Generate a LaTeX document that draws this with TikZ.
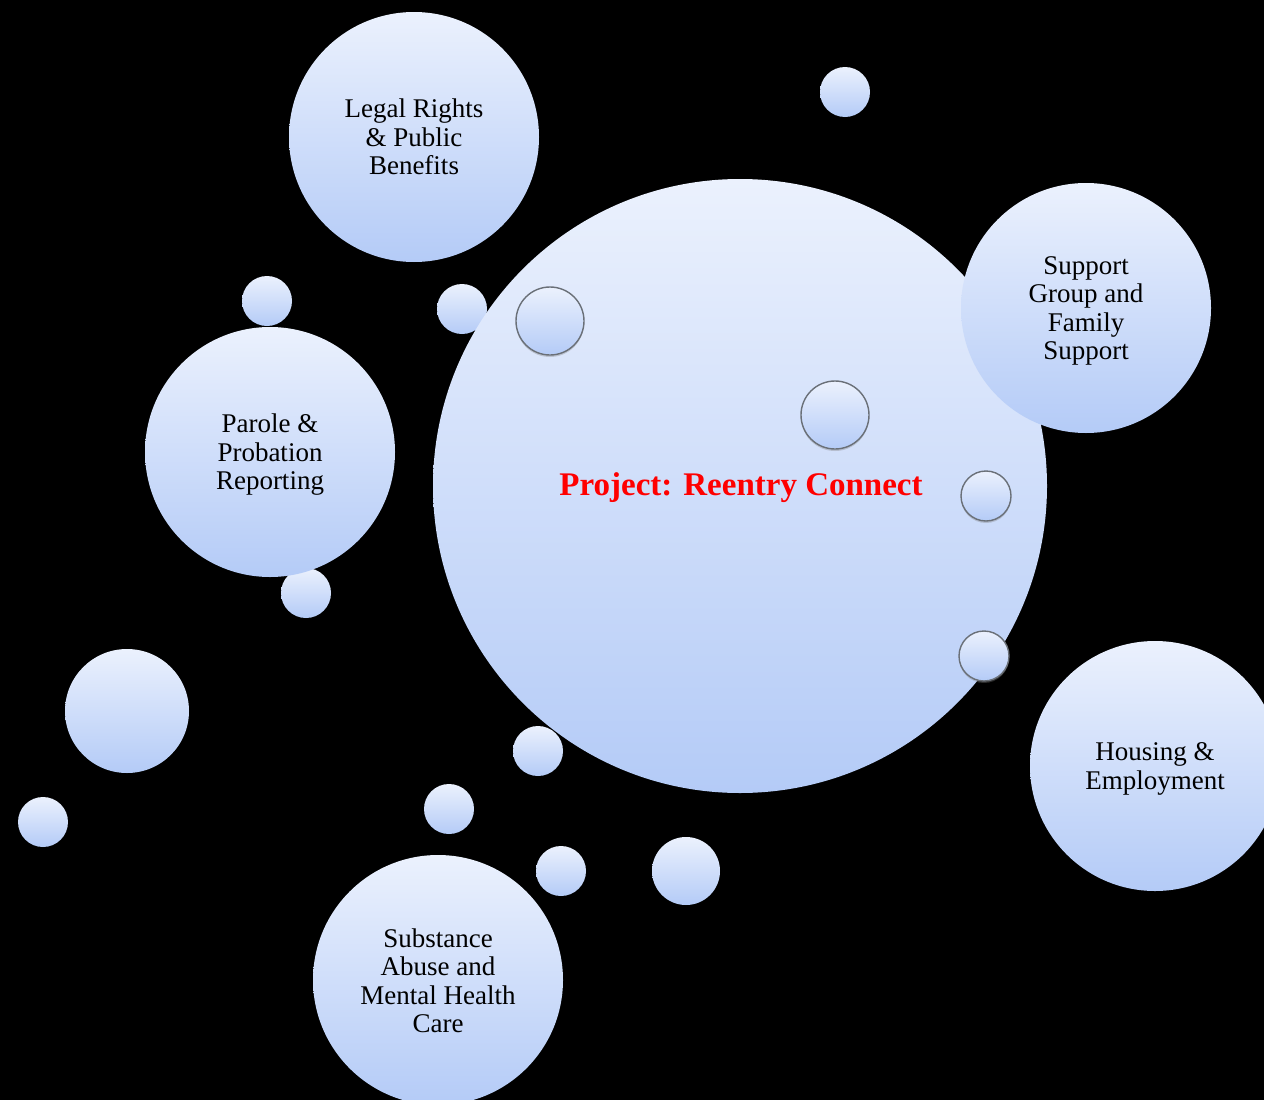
\documentclass[tikz,border=0pt]{standalone}
\usepackage{fontspec}
\setmainfont{Liberation Serif}
\usetikzlibrary{shadows}
\definecolor{bubtop}{HTML}{EBF1FD}
\definecolor{bubbot}{HTML}{B4CBF7}
\definecolor{rimgray}{HTML}{6A7078}
\definecolor{titlered}{HTML}{FF0000}
\tikzset{
  bubble/.style={circle, inner sep=0pt, minimum size=#1, shade, top color=bubtop, bottom color=bubbot, draw=none},
  rimbubble/.style={bubble=#1, draw=rimgray, line width=1.4pt, drop shadow={opacity=0.35, shadow xshift=0pt, shadow yshift=-2pt}},
  bubtext/.style={align=center, inner sep=0pt, font=\fontsize{27}{28.5}\selectfont, text=black},
}
\begin{document}
\begin{tikzpicture}[x=1pt,y=-1pt]
\fill[black] (0,0) rectangle (1264,1100);
\useasboundingbox (0,0) rectangle (1264,1100);
\clip (0,0) rectangle (1264,1100);
% small background bubbles
\node[bubble=50pt] (s1) at (845,92) {};
\node[bubble=50pt] (s2) at (267,301) {};
\node[bubble=50pt] (s3) at (462,309) {};
\node[bubble=50pt] (s4) at (306,593) {};
\node[bubble=124pt] (m1) at (127,711) {};
\node[bubble=50pt] (s5) at (43,822) {};
\node[bubble=50pt] (s6) at (538,751) {};
\node[bubble=50pt] (s7) at (449,809) {};
\node[bubble=50pt] (s8) at (561,871) {};
\node[bubble=68pt] (s9) at (686,871) {};
% main bubble
\node[bubble=614pt] (main) at (740,486) {};
\node[font=\fontsize{33}{36}\selectfont\bfseries, text=titlered] (title) at (741,488) {Project: Reentry Connect};
% rimmed bubbles on main
\node[rimbubble=68pt] (r1) at (550,321) {};
\node[rimbubble=68pt] (r2) at (835,415) {};
\node[rimbubble=50pt] (r3) at (986,496) {};
\node[rimbubble=50pt] (r4) at (984,656) {};
% topic bubbles
\node[bubble=250pt] (legal) at (414,137) {};
\node[bubble=250pt] (support) at (1086,308) {};
\node[bubble=250pt] (parole) at (270,452) {};
\node[bubble=250pt] (housing) at (1155,766) {};
\node[bubble=250pt] (substance) at (438,980) {};
\node[bubtext] (legalt) at (414,137) {Legal Rights\\\& Public\\Benefits};
\node[bubtext] (supportt) at (1086,311) {Support\\Group and\\Family\\Support};
\node[bubtext] (parolet) at (270,455) {Parole \&\\Probation\\Reporting};
\node[bubtext] (housingt) at (1155,769) {Housing \&\\Employment};
\node[bubtext] (substancet) at (438,981) {Substance\\Abuse and\\Mental Health\\Care};
\end{tikzpicture}
\end{document}
